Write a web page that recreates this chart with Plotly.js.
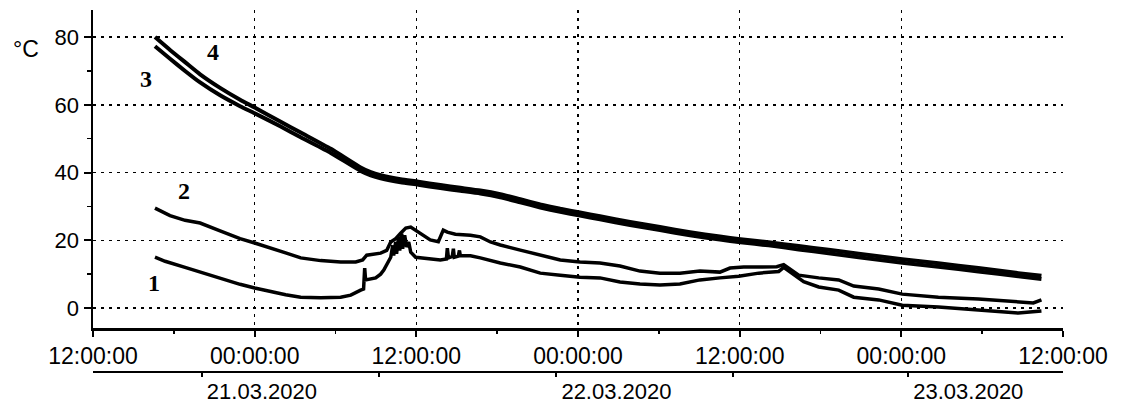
<!DOCTYPE html>
<html>
<head>
<meta charset="utf-8">
<script src="https://cdn.plot.ly/plotly-3.0.1.min.js"></script>
<style>html,body{margin:0;padding:0;background:#fff;}#chart{width:1123px;height:408px;}</style>
</head>
<body>
<div id="chart"></div>
<script>
// Series 1 (lower thin line)
const t1 = [
 "2020-03-20 16:36","2020-03-20 17:21","2020-03-20 18:50","2020-03-20 19:57","2020-03-20 21:26","2020-03-20 22:55",
 "2020-03-21 00:00","2020-03-21 01:11","2020-03-21 02:18","2020-03-21 03:25","2020-03-21 04:54","2020-03-21 06:23",
 "2020-03-21 07:08","2020-03-21 07:52","2020-03-21 08:05","2020-03-21 08:10","2020-03-21 08:14","2020-03-21 08:59",
 "2020-03-21 09:21","2020-03-21 09:35","2020-03-21 09:52","2020-03-21 10:06","2020-03-21 10:15","2020-03-21 10:19",
 "2020-03-21 10:28","2020-03-21 10:32","2020-03-21 10:41","2020-03-21 10:46","2020-03-21 10:55","2020-03-21 10:59",
 "2020-03-21 11:08","2020-03-21 11:17","2020-03-21 11:26","2020-03-21 11:35","2020-03-21 11:57","2020-03-21 12:18",
 "2020-03-21 13:02","2020-03-21 13:47","2020-03-21 14:14","2020-03-21 14:18","2020-03-21 14:23","2020-03-21 14:40",
 "2020-03-21 14:45","2020-03-21 14:49","2020-03-21 15:07","2020-03-21 15:12","2020-03-21 15:16","2020-03-21 16:01",
 "2020-03-21 16:45","2020-03-21 17:30","2020-03-21 18:14","2020-03-21 19:43","2020-03-21 21:12","2020-03-21 22:41",
 "2020-03-22 00:09","2020-03-22 01:38","2020-03-22 03:07","2020-03-22 04:36","2020-03-22 06:05","2020-03-22 07:34",
 "2020-03-22 09:03","2020-03-22 10:32","2020-03-22 11:56","2020-03-22 13:25","2020-03-22 14:54","2020-03-22 15:16",
 "2020-03-22 16:01","2020-03-22 16:45","2020-03-22 17:52","2020-03-22 19:21","2020-03-22 20:28","2020-03-22 22:19",
 "2020-03-23 00:04","2020-03-23 02:45","2020-03-23 05:43","2020-03-23 08:41","2020-03-23 10:24"];
const v1 = [
 15.0,13.8,12.0,10.6,9.0,7.0,
 5.9,4.8,3.9,3.2,3.0,3.2,
 3.8,5.3,5.6,11.8,8.3,8.9,
 10.0,11.2,13.5,15.0,18.5,15.5,
 19.5,16.0,21.0,17.0,22.0,17.5,
 21.5,18.0,19.5,16.5,15.0,14.8,
 14.5,14.2,14.5,17.7,14.8,15.2,
 17.5,15.0,15.3,17.0,15.4,15.4,
 14.8,14.0,13.3,12.1,10.3,9.7,
 9.1,8.9,7.7,7.1,6.8,7.1,
 8.3,8.9,9.4,10.3,10.8,12.0,
 10.0,7.8,6.2,5.3,3.2,2.4,
 0.8,0.3,-0.6,-1.5,-0.9];

// Series 2 (upper thin line)
const t2 = [
 "2020-03-20 16:36","2020-03-20 17:43","2020-03-20 18:50","2020-03-20 19:57","2020-03-20 21:26","2020-03-20 22:55",
 "2020-03-21 00:00","2020-03-21 01:11","2020-03-21 02:18","2020-03-21 03:25","2020-03-21 04:54","2020-03-21 06:23",
 "2020-03-21 07:30","2020-03-21 08:01","2020-03-21 08:19","2020-03-21 09:21","2020-03-21 09:48","2020-03-21 10:06",
 "2020-03-21 10:28","2020-03-21 10:50","2020-03-21 11:13","2020-03-21 11:35","2020-03-21 11:57","2020-03-21 12:18",
 "2020-03-21 13:02","2020-03-21 13:38","2020-03-21 14:00","2020-03-21 14:18","2020-03-21 14:54","2020-03-21 16:01",
 "2020-03-21 16:45","2020-03-21 17:30","2020-03-21 18:14","2020-03-21 19:43","2020-03-21 21:12","2020-03-21 22:41",
 "2020-03-22 00:09","2020-03-22 01:38","2020-03-22 03:07","2020-03-22 04:36","2020-03-22 06:05","2020-03-22 07:34",
 "2020-03-22 09:03","2020-03-22 10:32","2020-03-22 11:17","2020-03-22 12:18","2020-03-22 13:25","2020-03-22 14:45",
 "2020-03-22 15:16","2020-03-22 15:47","2020-03-22 16:23","2020-03-22 17:52","2020-03-22 19:21","2020-03-22 20:28",
 "2020-03-22 22:19","2020-03-23 00:04","2020-03-23 02:45","2020-03-23 05:43","2020-03-23 08:41","2020-03-23 09:48",
 "2020-03-23 10:24"];
const v2 = [
 29.5,27.3,25.9,25.1,22.8,20.5,
 19.2,17.8,16.3,14.8,14.0,13.6,
 13.6,14.2,15.6,16.2,17.0,19.5,
 20.5,22.1,23.6,23.9,23.0,22.1,
 20.1,19.6,23.0,22.4,21.8,21.5,
 21.0,19.5,18.6,17.1,15.6,14.2,
 13.6,13.3,12.4,10.9,10.3,10.3,
 10.9,10.6,11.8,12.1,12.1,12.2,
 12.8,11.5,9.7,8.9,8.3,6.5,
 5.6,4.1,3.2,2.7,1.8,1.5,
 2.4];

// Series 3 and 4 (thick lines)
const t34 = [
 "2020-03-20 16:36","2020-03-20 17:43","2020-03-20 18:50","2020-03-20 19:57","2020-03-20 21:26","2020-03-20 22:55",
 "2020-03-21 00:00","2020-03-21 01:56","2020-03-21 03:25","2020-03-21 05:39","2020-03-21 07:52","2020-03-21 08:37",
 "2020-03-21 09:21","2020-03-21 10:50","2020-03-21 12:09","2020-03-21 13:47","2020-03-21 15:16","2020-03-21 16:45",
 "2020-03-21 18:14","2020-03-21 19:43","2020-03-21 21:12","2020-03-21 22:41","2020-03-22 00:09","2020-03-22 01:38",
 "2020-03-22 03:52","2020-03-22 06:05","2020-03-22 08:19","2020-03-22 10:32","2020-03-22 12:04","2020-03-22 14:09",
 "2020-03-22 16:23","2020-03-22 18:36","2020-03-22 20:50","2020-03-23 00:04","2020-03-23 02:45","2020-03-23 05:43",
 "2020-03-23 08:41","2020-03-23 10:24"];
const v3 = [
 77.3,73.6,70.0,66.6,62.8,59.6,
 57.5,53.6,50.4,45.8,40.5,39.2,
 38.3,37.1,36.4,35.4,34.6,33.8,
 32.7,31.2,29.7,28.4,27.3,26.2,
 24.5,23.0,21.5,20.2,19.4,18.5,
 17.3,16.2,15.0,13.4,12.2,10.8,
 9.4,8.6];
const v4 = [
 80.0,76.2,72.6,69.0,65.0,61.5,
 59.2,55.0,51.8,47.0,41.5,40.1,
 39.2,38.0,37.3,36.3,35.5,34.7,
 33.6,32.1,30.6,29.3,28.2,27.1,
 25.4,23.9,22.4,21.1,20.3,19.4,
 18.3,17.2,16.0,14.4,13.2,11.8,
 10.3,9.5];

// Labels
const curveNames = ["1","2","3","4"];
const curveLabelX = ["2020-03-20 16:32","2020-03-20 18:45","2020-03-20 15:56","2020-03-20 20:55"];
const curveLabelY = [7.4, 34.5, 67.6, 75.6];
const timeTickVals = ["2020-03-20 12:00","2020-03-21 00:00","2020-03-21 12:00","2020-03-22 00:00","2020-03-22 12:00","2020-03-23 00:00","2020-03-23 12:00"];
const timeTickText = ["12:00:00","00:00:00","12:00:00","00:00:00","12:00:00","00:00:00","12:00:00"];
const dateTickVals = ["2020-03-20 20:05","2020-03-21 09:12","2020-03-21 22:24","2020-03-22 11:30","2020-03-23 00:31"];
const dateTickText = ["21.03.2020","","22.03.2020","","23.03.2020"];
const yTickVals = [0,20,40,60,80];
const unitLabel = "°C";

const black = "#000";
const sansFont = "Arial, 'Liberation Sans', sans-serif";
const serifFont = "'Times New Roman', 'Liberation Serif', serif";

const traces = [
  {x: t1, y: v1, mode: "lines", line: {color: black, width: 3.5}, hoverinfo: "skip"},
  {x: t2, y: v2, mode: "lines", line: {color: black, width: 3.5}, hoverinfo: "skip"},
  {x: t34, y: v3, mode: "lines", line: {color: black, width: 4, shape: "spline", smoothing: 0.5}, hoverinfo: "skip"},
  {x: t34, y: v4, mode: "lines", line: {color: black, width: 4, shape: "spline", smoothing: 0.5}, hoverinfo: "skip"},
  {x: [], y: [], xaxis: "x2", yaxis: "y", mode: "lines", hoverinfo: "skip"}
];

const annotations = curveNames.map((n, i) => ({
  x: curveLabelX[i], y: curveLabelY[i], xref: "x", yref: "y", text: "<b>" + n + "</b>",
  showarrow: false, font: {family: serifFont, size: 24, color: black}
}));
annotations.push({
  x: -0.085, y: 0.935, xref: "paper", yref: "paper", xanchor: "left", text: unitLabel, showarrow: false,
  font: {family: sansFont, size: 23, color: black}
});

const yDomainBottom = (372 - 328) / 362;

const layout = {
  width: 1123, height: 408,
  margin: {l: 93, r: 60, t: 10, b: 36, pad: 0},
  paper_bgcolor: "#fff", plot_bgcolor: "#fff",
  showlegend: false,
  xaxis: {
    type: "date",
    range: ["2020-03-20 12:00", "2020-03-23 12:00"],
    anchor: "y",
    tickmode: "array", tickvals: timeTickVals, ticktext: timeTickText,
    ticks: "outside", ticklen: 6, tickwidth: 2, tickcolor: black,
    showline: true, linecolor: black, linewidth: 2.5,
    showgrid: true, gridcolor: black, gridwidth: 1.5, griddash: "3px,5px",
    zeroline: false,
    minor: {ticks: "outside", ticklen: 3, tickwidth: 1.5, tickcolor: black, dtick: 6 * 3600 * 1000, tick0: "2020-03-20 12:00", showgrid: false},
    tickfont: {family: sansFont, size: 23, color: black}
  },
  xaxis2: {
    type: "date",
    range: ["2020-03-20 12:00", "2020-03-23 12:00"],
    overlaying: "x", anchor: "free", position: 0, side: "bottom",
    tickmode: "array", tickvals: dateTickVals, ticktext: dateTickText,
    ticks: "outside", ticklen: 4, tickwidth: 2, tickcolor: black,
    showline: true, linecolor: black, linewidth: 2,
    showgrid: false, zeroline: false,
    ticklabelshift: 60, ticklabelstandoff: -4,
    tickfont: {family: sansFont, size: 22, color: black}
  },
  yaxis: {
    domain: [yDomainBottom, 1],
    range: [-5.9, 88],
    tickmode: "array", tickvals: yTickVals,
    ticks: "outside", ticklen: 7, tickwidth: 2, tickcolor: black,
    showline: true, linecolor: black, linewidth: 2.5,
    showgrid: true, gridcolor: black, gridwidth: 1.5, griddash: "3px,5px",
    zeroline: false,
    minor: {ticks: "outside", ticklen: 4, tickwidth: 1.5, tickcolor: black, dtick: 10, tick0: 0, showgrid: false},
    tickfont: {family: sansFont, size: 22, color: black}
  },
  annotations: annotations
};

Plotly.newPlot("chart", traces, layout, {displayModeBar: false, staticPlot: true});
</script>
</body>
</html>
